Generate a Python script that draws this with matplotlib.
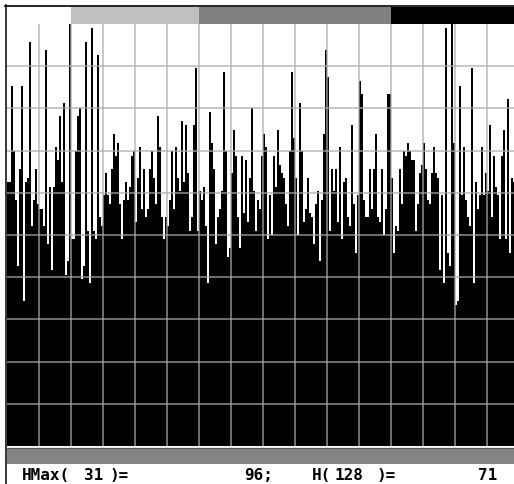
import numpy as np
import matplotlib.pyplot as plt
from matplotlib.patches import Rectangle
from matplotlib.lines import Line2D

# 256-bin luminance histogram (0..96 scale)
hist = [
    60, 60, 82, 67, 56, 41, 63, 82, 33, 60,
    61, 92, 50, 56, 63, 55, 54, 54, 50, 90,
    46, 59, 40, 59, 68, 65, 75, 60, 78, 39,
    42, 96, 47, 47, 67, 75, 77, 38, 41, 92,
    49, 37, 95, 49, 47, 89, 52, 50, 57, 62,
    57, 55, 63, 71, 66, 69, 55, 47, 56, 60,
    56, 59, 66, 67, 51, 61, 68, 54, 63, 52,
    54, 63, 67, 61, 55, 75, 68, 52, 47, 52,
    50, 56, 67, 54, 68, 61, 58, 74, 60, 73,
    62, 49, 52, 73, 86, 49, 58, 56, 59, 50,
    37, 76, 69, 63, 46, 52, 54, 58, 85, 67,
    43, 45, 62, 72, 66, 52, 45, 66, 53, 65,
    51, 61, 77, 58, 49, 56, 54, 66, 71, 68,
    47, 57, 48, 66, 59, 72, 64, 62, 61, 55,
    50, 67, 85, 70, 61, 48, 78, 67, 51, 54,
    61, 53, 52, 46, 55, 58, 42, 56, 71, 90,
    84, 49, 63, 58, 63, 51, 68, 47, 60, 61,
    52, 50, 73, 55, 44, 57, 83, 80, 56, 52,
    52, 63, 54, 63, 71, 52, 51, 63, 48, 54,
    80, 80, 61, 44, 50, 49, 63, 55, 67, 66,
    69, 67, 65, 65, 49, 55, 62, 64, 69, 63,
    56, 55, 62, 68, 62, 61, 40, 57, 37, 95,
    44, 41, 96, 69, 32, 33, 82, 57, 68, 56,
    52, 50, 86, 37, 60, 54, 57, 68, 57, 62,
    58, 73, 52, 66, 59, 57, 47, 66, 72, 47,
    79, 44, 61, 60, 58, 55,
]
h_max_bin, h_max = 31, 96
probe_bin, probe_val = 128, 71

# tone zones shown in the strip above the histogram
zone_edges = [0, 32, 96, 192, 256]
zone_colors = ['white', '#c0c0c0', '#808080', 'black']

W, H = 514, 485
fig = plt.figure(figsize=(W / 100, H / 100), dpi=100)


def box(x0, y0, x1, y1):
    # pixel box (top-left origin) -> figure rect
    return [x0 / W, 1 - y1 / H, (x1 - x0) / W, (y1 - y0) / H]


# histogram
ax = fig.add_axes(box(7, 25, 519, 447))
ax.stairs(hist, np.arange(len(hist) + 1), fill=True, color='black', lw=0)
ax.set_xlim(0, 256)
ax.set_ylim(0, h_max)
for x in range(16, 256, 16):
    ax.axvline(x, color='#ababab', alpha=0.655, lw=1.4)
for k in range(1, 10):
    ax.axhline(k * h_max / 10, color='#ababab', alpha=0.655, lw=1.4)
ax.axis('off')

# tone strip
ax_top = fig.add_axes(box(7, 8, 519, 25))
for i in range(len(zone_colors)):
    ax_top.axvspan(zone_edges[i], zone_edges[i + 1], color=zone_colors[i], lw=0)
ax_top.set_xlim(0, 256)
ax_top.axis('off')

# frame lines
fig.add_artist(Line2D([5 / W, 1], [1 - 6.8 / H, 1 - 6.8 / H], color='black', lw=1.2))
fig.add_artist(Line2D([5.8 / W, 5.8 / W], [0, 1 - 6.2 / H], color='black', lw=1.1))

# status bar
fig.add_artist(Rectangle((6.5 / W, 1 - 465 / H), 1, 16 / H, transform=fig.transFigure,
                         facecolor='#848484', edgecolor='none'))
fig.add_artist(Line2D([6.5 / W, 1], [1 - 449 / H, 1 - 449 / H], color='#5a5a5a', lw=0.9))

# readout text
font = dict(family='DejaVu Sans Mono', weight='bold', size=11.5, color='black')
y_txt = 1 - 480.5 / H
pieces = [
    (22, 'HMax('), (84, str(h_max_bin)), (110, ')='),
    (244, f'{h_max};'), (312, 'H('), (334, str(probe_bin)), (377, ')='),
    (478, str(probe_val)),
]
for px, s in pieces:
    fig.text(px / W, y_txt, s, va='baseline', ha='left', **font)

fig.savefig('out.png', dpi=100)
